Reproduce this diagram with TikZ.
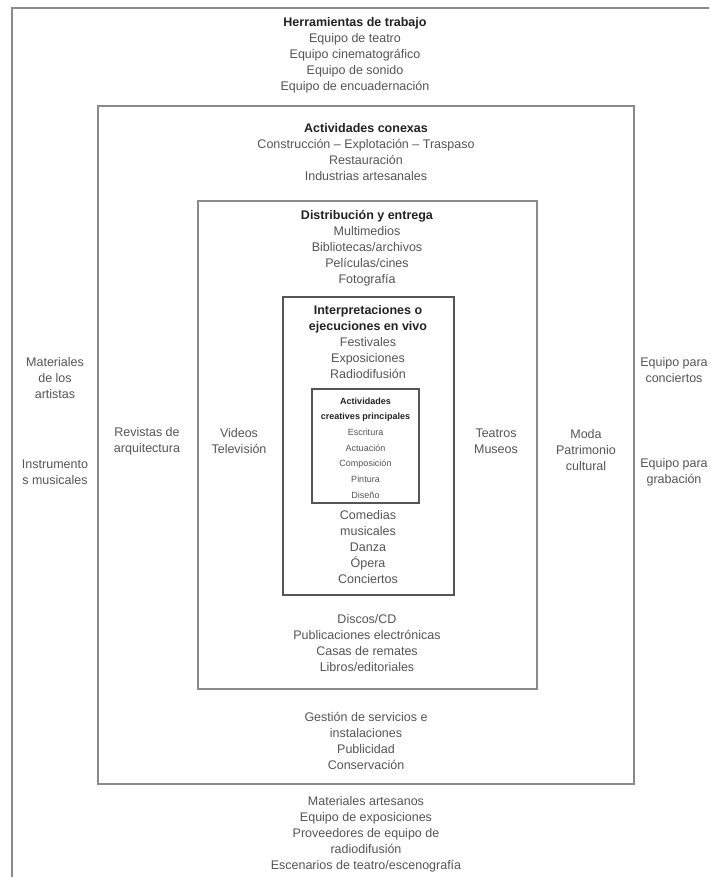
\documentclass[tikz,border=0pt]{standalone}
\usepackage{fontspec}
\setmainfont{Liberation Sans}
\definecolor{txtgray}{HTML}{555555}
\definecolor{ttlgray}{HTML}{222222}
\definecolor{boxgray}{HTML}{8A8A8A}
\definecolor{boxdark}{HTML}{555555}
\begin{document}
\begin{tikzpicture}[x=1pt,y=-1pt,
		txt/.style={align=center,inner sep=0pt,text=txtgray,font=\fontsize{12.5}{16}\selectfont},
		smalltxt/.style={align=center,inner sep=0pt,text=txtgray,font=\fontsize{9}{15.7}\selectfont},
		frame/.style={draw=boxgray,line width=1.4pt},
		framedark/.style={draw=boxdark,line width=1.2pt}]
	\useasboundingbox (0,0) rectangle (709,877);
	\clip (0,0) rectangle (709,877);
	\fill[white] (0,0) rectangle (709,877);
	\draw[frame] (720,8) -- (12,8) -- (12,890);
	\draw[frame] (98,106) rectangle (634,784);
	\draw[frame] (198,201) rectangle (537,689);
	\draw[framedark] (283,297) rectangle (454,595);
	\draw[framedark] (312,389) rectangle (419,503);
	\node[txt] (tools) at (355,55) {\textcolor{ttlgray}{\textbf{Herramientas de trabajo}}\\Equipo de teatro\\Equipo cinematográfico\\Equipo de sonido\\Equipo de encuadernación};
	\node[txt] (conexas) at (366,152) {\textcolor{ttlgray}{\textbf{Actividades conexas}}\\Construcción -- Explotación -- Traspaso\\Restauración\\Industrias artesanales};
	\node[txt] (distrib) at (367,248) {\textcolor{ttlgray}{\textbf{Distribución y entrega}}\\Multimedios\\Bibliotecas/archivos\\Películas/cines\\Fotografía};
	\node[txt] (vivo) at (368,342) {\textcolor{ttlgray}{\textbf{Interpretaciones o}}\\\textcolor{ttlgray}{\textbf{ejecuciones en vivo}}\\Festivales\\Exposiciones\\Radiodifusión};
	\node[smalltxt] (creativas) at (365.5,448) {\textcolor{ttlgray}{\textbf{Actividades}}\\\textcolor{ttlgray}{\textbf{creatives principales}}\\Escritura\\Actuación\\Composición\\Pintura\\Diseño};
	\node[txt] (escena) at (368,547) {Comedias\\musicales\\Danza\\Ópera\\Conciertos};
	\node[txt] (discos) at (367,643) {Discos/CD\\Publicaciones electrónicas\\Casas de remates\\Libros/editoriales};
	\node[txt] (gestion) at (366,741) {Gestión de servicios e\\instalaciones\\Publicidad\\Conservación};
	\node[txt] (artesanos) at (366,834) {Materiales artesanos\\Equipo de exposiciones\\Proveedores de equipo de\\radiodifusión\\Escenarios de teatro/escenografía};
	\node[txt] (artistas) at (55,378) {Materiales\\de los\\artistas};
	\node[txt] (instrum) at (55,472) {Instrumento\\s musicales};
	\node[txt] (revistas) at (147,441) {Revistas de\\arquitectura};
	\node[txt] (videos) at (239,441) {Videos\\Televisión};
	\node[txt] (teatros) at (496,441) {Teatros\\Museos};
	\node[txt] (moda) at (586,450) {Moda\\Patrimonio\\cultural};
	\node[txt] (conciertos) at (674,370) {Equipo para\\conciertos};
	\node[txt] (grabacion) at (674,472) {Equipo para\\grabación};
\end{tikzpicture}
\end{document}
